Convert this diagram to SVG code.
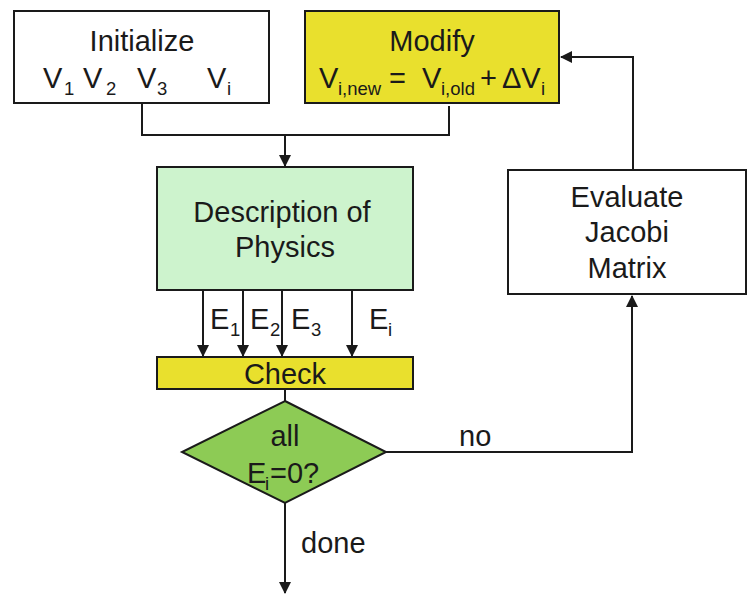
<svg xmlns="http://www.w3.org/2000/svg" width="747" height="595" viewBox="0 0 747 595">
<defs>
<marker id="arr" viewBox="0 0 12 12" refX="11" refY="6" markerWidth="12" markerHeight="12" markerUnits="userSpaceOnUse" orient="auto">
<path d="M0,0 L12,6 L0,12 Z" fill="#1a1a1a"/>
</marker>
<style>
.box{stroke:#1a1a1a;stroke-width:2}
.t{font-family:"Liberation Sans",Arial,sans-serif;font-size:29px;fill:#1a1a1a}
.s{font-family:"Liberation Sans",Arial,sans-serif;font-size:18.5px;fill:#1a1a1a}
.c{text-anchor:middle}
.ln{fill:none;stroke:#1a1a1a;stroke-width:2}
</style>
</defs>
<rect width="747" height="595" fill="#fff"/>
<g id="connectors">
<polyline class="ln" points="142,104 142,135 449,135 449,106"/>
<line class="ln" x1="285" y1="135" x2="285" y2="166" marker-end="url(#arr)"/>
<line class="ln" x1="203" y1="291" x2="203" y2="356" marker-end="url(#arr)"/>
<line class="ln" x1="243" y1="291" x2="243" y2="356" marker-end="url(#arr)"/>
<line class="ln" x1="282" y1="291" x2="282" y2="356" marker-end="url(#arr)"/>
<line class="ln" x1="352" y1="291" x2="352" y2="356" marker-end="url(#arr)"/>
<line class="ln" x1="285" y1="390" x2="285" y2="401"/>
<polyline class="ln" points="386,452 632,452 632,296" marker-end="url(#arr)"/>
<polyline class="ln" points="633,170 633,57 561,57" marker-end="url(#arr)"/>
<line class="ln" x1="285" y1="503" x2="285" y2="593" marker-end="url(#arr)"/>
<text class="t" x="459" y="446">no</text>
<text class="t" x="301" y="553">done</text>
<text class="t" x="210" y="329">E</text><text class="s" x="230" y="336">1</text>
<text class="t" x="250" y="329">E</text><text class="s" x="270" y="336">2</text>
<text class="t" x="291" y="329">E</text><text class="s" x="311" y="336">3</text>
<text class="t" x="369" y="329">E</text><text class="s" x="388" y="336">i</text>
</g>
<g id="initialize">
<rect class="box" x="14" y="11" width="255" height="92" fill="#fff"/>
<text class="t c" x="142" y="51">Initialize</text>
<text class="t" x="43" y="88">V</text><text class="s" x="64" y="95">1</text>
<text class="t" x="83" y="88">V</text><text class="s" x="106" y="95">2</text>
<text class="t" x="137" y="88">V</text><text class="s" x="157" y="95">3</text>
<text class="t" x="207" y="88">V</text><text class="s" x="227" y="95">i</text>
</g>
<g id="modify">
<rect class="box" x="305" y="11" width="254" height="92" fill="#E9E02D"/>
<text class="t c" x="432" y="51">Modify</text>
<text class="t" x="319" y="88">V</text><text class="s" x="338" y="95">i,new</text>
<text class="t" x="389" y="88">=</text>
<text class="t" x="422" y="88">V</text><text class="s" x="441" y="95">i,old</text>
<text class="t" x="480" y="88">+</text>
<text class="t" x="502" y="88">ΔV</text><text class="s" x="541" y="95">i</text>
</g>
<g id="description">
<rect class="box" x="157" y="167" width="256" height="123" fill="#CDF3CD"/>
<text class="t c" x="282" y="222">Description of</text>
<text class="t c" x="285" y="257">Physics</text>
</g>
<g id="check">
<rect class="box" x="157" y="357" width="256" height="32" fill="#E9E02D"/>
<text class="t c" x="285" y="384">Check</text>
</g>
<g id="decision">
<polygon class="box" points="285,401 386,452 285,503 182,452" fill="#8DCB55"/>
<text class="t c" x="285" y="446">all</text>
<text class="t" x="247" y="483">E</text><text class="s" x="265" y="490">i</text><text class="t" x="270" y="483">=0?</text>
</g>
<g id="evaluate">
<rect class="box" x="508" y="170" width="238" height="124" fill="#fff"/>
<text class="t c" x="627" y="207">Evaluate</text>
<text class="t c" x="627" y="242">Jacobi</text>
<text class="t c" x="627" y="278">Matrix</text>
</g>
</svg>
